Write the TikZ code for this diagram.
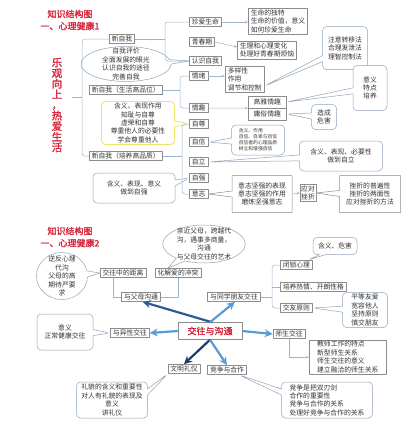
\documentclass[tikz,border=0pt]{standalone}
\usepackage{fontspec}
\setmainfont{Noto Sans CJK SC}
\newfontfamily\heavycjk[FakeBold=2]{Noto Sans CJK SC}
\usepackage{tikz}
\usetikzlibrary{calc, shapes.callouts, shapes.geometric, arrows.meta}
\usepackage{xcolor}

\definecolor{boxgray}{HTML}{8C8C8C}
\definecolor{linkblue}{HTML}{9DB5CF}
\definecolor{callgray}{HTML}{8FA3B8}
\definecolor{titlered}{HTML}{D7263D}
\definecolor{softyellow}{HTML}{EDE46A}
\definecolor{darkarrow}{HTML}{2E5A96}
\definecolor{navyarrow}{HTML}{1F3A6E}
\definecolor{lightarrow}{HTML}{5B9BD5}

\newcommand\boxfont{\fontsize{6.8}{8.4}\selectfont}
\newcommand\tinyfont{\fontsize{4.8}{6}\selectfont}
\newcommand\headfont{\heavycjk\fontsize{9}{10}\selectfont}

\begin{document}
\begin{tikzpicture}[x=1pt, y=-1pt, font=\boxfont, line join=round,
    box/.style={draw=boxgray, line width=0.5pt, fill=white, text=black!80,
        inner xsep=2.5pt, inner ysep=1.5pt},
    leftbox/.style={box, align=left},
    bubble/.style={rectangle callout, rounded corners=4pt, draw=callgray,
        line width=0.5pt, fill=white, text=black!80, align=center,
        callout pointer width=6pt, inner sep=1pt},
    oval/.style={ellipse callout, draw=callgray, line width=0.5pt,
        fill=white, text=black!80, align=center, callout pointer width=6pt},
    link/.style={draw=linkblue, line width=0.5pt},
    linkarrow/.style={link, -{Stealth[length=3pt, width=2.5pt]}},
    bigarrow/.style={line width=2.2pt, -{Stealth[length=8pt, width=8pt]}},
    headline/.style={text=titlered, font=\headfont},
]
    \useasboundingbox (0,0) rectangle (418,429);

    % ---------- part 1: titles ----------
    \node[headline] (head1)  at (70,14) {知识结构图};
    \node[headline] (head1b) at (70,26) {一、心理健康1};
    \node[text=titlered, font=\heavycjk\fontsize{10.5}{10.6}\selectfont,
        align=center] (motto) at (57,105)
        {乐\\观\\向\\上\\，\\热\\爱\\生\\活};

    % left column
    \node[box, anchor=west] (xzw1) at (109,39) {新自我};
    \node[box, anchor=west] (xzw2) at (89,90)  {新自我（生活高品位）};
    \node[box, anchor=west] (xzw3) at (89,156) {新自我（培养高品质）};

    % middle column
    \node[box, anchor=west] (zhenai)   at (189,22)  {珍爱生命};
    \node[box, anchor=west] (qingchun) at (189,42)  {青春期};
    \node[box, anchor=west] (renshi)   at (189,61)  {认识自我};
    \node[box, anchor=west] (qingxu)   at (189,76)  {情绪};
    \node[box, anchor=west] (qingqu)   at (189,108) {情趣};
    \node[box, anchor=west] (zizun)    at (189,124) {自尊};
    \node[box, anchor=west] (zixin)    at (189,142) {自信};
    \node[box, anchor=west] (zili)     at (189,162) {自立};
    \node[box, anchor=west] (ziqiang)  at (189,178) {自强};
    \node[box, anchor=west] (yizhi)    at (189,194) {意志};

    % right columns
    \node[leftbox, anchor=west] (shengming) at (248,21)
        {生命的独特\\生命的价值，意义\\如何珍爱生命};
    \node[leftbox, anchor=west] (shengli) at (237,50)
        {生理和心理变化\\处理好青春期烦恼};
    \node[leftbox, anchor=west] (duoyang) at (225,79)
        {多样性\\作用\\调节和控制};
    \node[box, anchor=west, minimum width=38pt, minimum height=12pt] (gaoya)
        at (248,102) {高雅情趣};
    \node[box, anchor=west, minimum width=38pt, minimum height=12pt] (yongsu)
        at (248,114) {庸俗情趣};
    \node[box, align=center, inner sep=1pt] (yingdui) at (308,193) {应对\\挫折};

    % callouts of part 1
    \node[oval, inner xsep=8pt, inner ysep=-7pt, minimum width=81pt,
        minimum height=35pt, callout absolute pointer={(renshi.west)}]
        (pingjia) at (126,64)
        {自我评价\\全面发展的眼光\\认识自我的途径\\完善自我};
    \node[bubble, minimum width=45pt, minimum height=43pt,
        callout absolute pointer={($(duoyang.east)+(0,7)$)}] (zhuyi) at (345,48)
        {注意转移法\\合理发泄法\\理智控制法};
    \node[bubble, minimum width=34pt, minimum height=45pt,
        callout absolute pointer={(gaoya.east)}] (yiyi) at (370,88)
        {意义\\特点\\培养};
    \node[bubble, minimum width=25pt, minimum height=25pt,
        callout absolute pointer={(yongsu.east)}] (weihai) at (324,117)
        {造成\\危害};
    \node[bubble, draw=softyellow, line width=0.8pt, inner ysep=0pt,
        minimum width=73pt, minimum height=43pt,
        callout absolute pointer={(zizun.west)}] (zunzhong) at (138,123)
        {含义、表现作用\\知耻与自尊\\虚荣和自尊\\尊重他人的必要性\\学会尊重他人};
    \node[bubble, font=\tinyfont, align=left, minimum width=53pt,
        minimum height=30pt, callout absolute pointer={(zixin.east)}]
        (zixinbox) at (258,140)
        {含义、作用\\自信、自卑与自信\\自信者的心理品质\\树立和增强自信};
    \node[bubble, minimum width=83pt, minimum height=30pt,
        callout absolute pointer={(zili.east)}] (zilibox) at (341,156)
        {含义、表现、必要性\\做到自立};
    \node[bubble, minimum width=82pt, minimum height=30pt,
        callout absolute pointer={(ziqiang.west)}] (ziqiangbox) at (134,188)
        {含义、表现、意义\\做到自强};
    \node[rectangle callout, draw=boxgray, line width=0.5pt, fill=white,
        text=black!80, align=center, minimum width=60pt, minimum height=37pt,
        callout pointer width=6pt, callout absolute pointer={(yizhi.east)}]
        (yizhibox) at (262,194)
        {意志坚强的表现\\意志坚强的作用\\磨炼坚强意志};
    \node[rectangle callout, draw=boxgray, line width=0.5pt, fill=white,
        text=black!80, align=center, minimum width=61pt, minimum height=37pt,
        callout pointer width=6pt, callout absolute pointer={(yingdui.east)}]
        (cuozhe) at (370,194)
        {挫折的普遍性\\挫折的两面性\\应对挫折的方法};

    % brackets and links of part 1
    \coordinate (brA) at (82,97);
    \coordinate (mottoend) at (72,97);
    \draw[link, rounded corners=3pt] (xzw1.west) -| (brA) |- (xzw3.west);
    \draw[link] (mottoend) -- (brA);

    \coordinate (brB) at (165,39);
    \draw[link] (xzw1.east) -- (brB);
    \draw[link, rounded corners=3pt] (zhenai.west) -| (brB) |- (renshi.west);

    \coordinate (brC) at (180,90);
    \draw[link] (xzw2.east) -- (brC);
    \draw[link, rounded corners=3pt] (qingxu.west) -| (brC) |- (qingqu.west);

    \coordinate (brD) at (182,156);
    \draw[link] (xzw3.east) -- (brD);
    \draw[link, rounded corners=3pt] (zizun.west) -| (brD) |- (yizhi.west);

    \draw[linkarrow] (zhenai.east) -- (shengming.west |- zhenai.east);
    \draw[linkarrow] (qingchun.east) -- ($(shengli.west)+(0,-3)$);
    \draw[linkarrow] (qingxu.east) -- (duoyang.west |- qingxu.east);
    \draw[linkarrow] (qingqu.east) -- (gaoya.south west);
    \draw[linkarrow] (yizhibox.east) -- (yingdui.west);

    % ---------- part 2: titles ----------
    \node[headline] (head2)  at (70,231) {知识结构图};
    \node[headline] (head2b) at (70,243) {一、心理健康2};

    \node[box] (juli)    at (123,273) {交往中的距离};
    \node[box] (huajie)  at (178,273) {化解爱的冲突};
    \node[box] (fumu)    at (141,297) {与父母沟通};
    \node[box] (tongxue) at (234,297) {与同学朋友交往};
    \node[box, anchor=west] (bisuo)   at (280,265) {闭锁心理};
    \node[box, anchor=west] (peiyang) at (280,287) {培养热情、开朗性格};
    \node[box, anchor=west] (jiaoyou) at (280,308) {交友原则};
    \node[draw=boxgray, line width=0.5pt, fill=white, text=titlered,
        font=\heavycjk\fontsize{9}{10}\selectfont, minimum width=64pt,
        minimum height=17pt] (jiaowang) at (210,331) {交往与沟通};
    \node[box] (yixing)    at (130,333) {与异性交往};
    \node[box] (shisheng)  at (289,334) {师生交往};
    \node[box] (wenming)   at (184,369) {文明礼仪};
    \node[box] (jingzheng) at (227,370) {竞争与合作};
    \node[leftbox, minimum width=77pt, anchor=west] (jiaoshi) at (309,357)
        {教师工作的特点\\新型师生关系\\师生交往的意义\\建立融洽的师生关系};

    % callouts of part 2
    \node[oval, inner xsep=2pt, inner ysep=-10pt, minimum width=51pt,
        minimum height=47pt, callout absolute pointer={(juli.west)}]
        (nifan) at (62,276) {逆反心理\\代沟\\父母的高\\期待严要\\求};
    \node[oval, inner xsep=2pt, inner ysep=-8pt, minimum width=80pt,
        minimum height=38pt,
        callout absolute pointer={($(huajie.north)+(-10,0)$)}] (qinjin)
        at (204,244)
        {亲近父母，跨越代\\沟，遇事多商量，\\沟通\\与父母交往的艺术};
    \node[bubble, minimum width=44pt, minimum height=17pt,
        callout absolute pointer={($(bisuo.north east)+(-5,0)$)}] (weihai2)
        at (335,246) {含义、危害};
    \node[bubble, minimum width=45pt, minimum height=35pt,
        callout absolute pointer={(jiaoyou.east)}] (pingdeng) at (365,310)
        {平等友爱\\宽容他人\\坚持原则\\慎交朋友};
    \node[bubble, minimum width=56pt, minimum height=36pt,
        callout absolute pointer={(yixing.west)}] (yiyi2) at (65,332)
        {意义\\正常健康交往};
    \node[bubble, minimum width=71pt, minimum height=36pt,
        callout absolute pointer={(wenming.south west)}] (limao) at (112,400)
        {礼貌的含义和重要性\\对人有礼貌的表现及\\意义\\讲礼仪};
    \node[bubble, align=left, minimum width=91pt, minimum height=36pt,
        callout absolute pointer={($(jingzheng.south)+(12,0)$)}] (jingbox)
        at (327,400)
        {竞争是把双刃剑\\合作的重要性\\竞争与合作的关系\\处理好竞争与合作的关系};

    % links of part 2
    \draw[link] ($(juli.south)+(-10,0)$) |- (fumu.west);
    \draw[link] (huajie.south) |- (fumu.east);

    \coordinate (brE) at (272,297);
    \draw[link] (tongxue.east) -- (brE);
    \draw[link, rounded corners=3pt] (bisuo.west) -| (brE) |- (jiaoyou.west);
    \draw[link] (brE |- peiyang.west) -- (peiyang.west);

    \draw[linkarrow] (shisheng.south) |- (jiaoshi.west);

    % thick arrows from the centre
    \draw[bigarrow, darkarrow]  ($(jiaowang.north)+(2,0)$) -- (fumu.-70);
    \draw[bigarrow, lightarrow] ($(jiaowang.north)+(0,0)$) -- (tongxue.-80);
    \draw[bigarrow, lightarrow] (jiaowang.west)  -- (yixing.east);
    \draw[bigarrow, lightarrow] (jiaowang.east)  -- (shisheng.west);
    \draw[bigarrow, navyarrow]  (jiaowang.south) -- (wenming.north);
    \draw[bigarrow, lightarrow] (jiaowang.south) -- (jingzheng.north);
\end{tikzpicture}
\end{document}
